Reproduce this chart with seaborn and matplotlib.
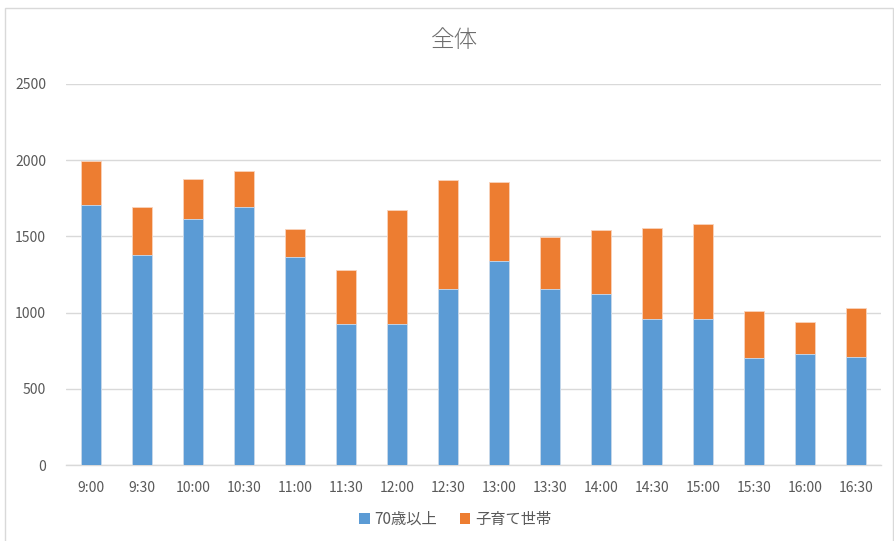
import matplotlib
matplotlib.use("Agg")
import matplotlib.pyplot as plt
import seaborn as sns
import pandas as pd
from matplotlib.patches import Rectangle, Patch

times = ["9:00", "9:30", "10:00", "10:30", "11:00", "11:30", "12:00", "12:30",
         "13:00", "13:30", "14:00", "14:30", "15:00", "15:30", "16:00", "16:30"]
over70 = [1708, 1376, 1612, 1691, 1363, 924, 924, 1153,
          1337, 1155, 1121, 957, 957, 703, 731, 712]
childcare = [287, 319, 262, 236, 185, 358, 747, 715,
             522, 341, 420, 600, 622, 310, 208, 319]
series_names = ["70歳以上", "子育て世帯"]
title = "全体"
yticks = [0, 500, 1000, 1500, 2000, 2500]

blue = "#5B9BD5"
orange = "#ED7D31"
txt = "#595959"

sns.set_theme(style="white")
plt.rcParams['font.family'] = ['Noto Sans CJK JP', 'DejaVu Sans']

df = pd.DataFrame({"time": times, "over70": over70, "childcare": childcare})
df["total"] = df["over70"] + df["childcare"]

fig = plt.figure(figsize=(8.94, 5.41), dpi=100)
ax = fig.add_axes([0.0733, 0.140, 0.9127, 0.705])

sns.barplot(data=df, x="time", y="total", color=orange, width=0.4,
            saturation=1, edgecolor="#F9D3BC", linewidth=0.6, ax=ax, zorder=3)
sns.barplot(data=df, x="time", y="over70", color=blue, width=0.4,
            saturation=1, edgecolor="#C9DDF1", linewidth=0.6, ax=ax, zorder=4)

ax.set_ylim(0, 2500)
ax.set_xlim(-0.5, len(times) - 0.5)
ax.set_yticks(yticks)
ax.set_yticklabels([str(v) for v in yticks])
ax.grid(axis="y", color="#D9D9D9", linewidth=1, zorder=0)
ax.grid(axis="x", visible=False)
for s in ["top", "right", "left"]:
    ax.spines[s].set_visible(False)
ax.spines["bottom"].set_color("#D9D9D9")
ax.spines["bottom"].set_linewidth(1)
ax.set_xlabel("")
ax.set_ylabel("")
ax.tick_params(axis="both", length=0, colors=txt, labelsize=10)
ax.tick_params(axis="x", pad=11)
ax.tick_params(axis="y", pad=14)

fig.text(0.509, 0.926, title, ha="center", va="center", fontsize=17,
         color="#6E6E6E", fontweight="light")

handles = [Patch(facecolor=blue, edgecolor="none"), Patch(facecolor=orange, edgecolor="none")]
fig.legend(handles, series_names, loc="center", bbox_to_anchor=(0.509, 0.04), ncol=2,
           frameon=False, fontsize=11, labelcolor=txt, handlelength=0.7,
           handleheight=0.7, handletextpad=0.3, columnspacing=1.5)

fig.patches.append(Rectangle((5 / 894, -0.01), 0.999 - 5 / 894, 1 - 8 / 541 + 0.01,
                             transform=fig.transFigure, fill=False,
                             edgecolor="#D9D9D9", linewidth=1))

fig.savefig("out.png", dpi=100, facecolor="white")
